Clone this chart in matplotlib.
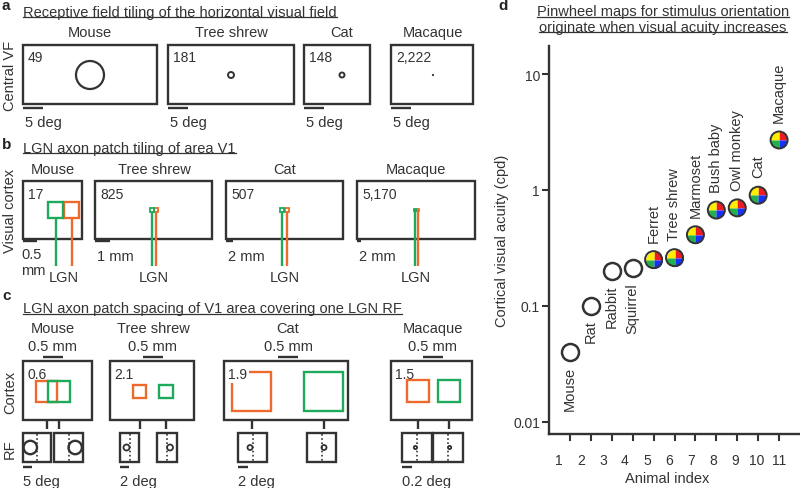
import numpy as np
import matplotlib
matplotlib.use("Agg")
import matplotlib.pyplot as plt
from matplotlib.patches import Rectangle, Circle
from matplotlib.path import Path
from matplotlib.ticker import NullLocator

plt.rcParams["font.family"] = ["Liberation Sans", "DejaVu Sans"]

INK = "#333333"
ORANGE = "#EE6A2C"
GREEN = "#1DAA5A"
FS = 10.5

# ---- data ----
species = ["Mouse", "Tree shrew", "Cat", "Macaque"]
rf_tiling = ["49", "181", "148", "2,222"]
rf_diam_deg = [7.0, 1.5, 1.25, 0.5]
patch_tiling = ["17", "825", "507", "5,170"]
cortex_scale = ["0.5\nmm", "1 mm", "2 mm", "2 mm"]
patch_spacing = ["0.6", "2.1", "1.9", "1.5"]
rf_scale = ["5 deg", "2 deg", "2 deg", "0.2 deg"]

animals = ["Mouse", "Rat", "Rabbit", "Squirrel", "Ferret", "Tree shrew",
           "Marmoset", "Bush baby", "Owl monkey", "Cat", "Macaque"]
animal_index = np.arange(1, 12)
acuity_cpd = [0.04, 0.10, 0.20, 0.21, 0.25, 0.26, 0.41, 0.67, 0.70, 0.90, 2.7]
pinwheels = [False] * 4 + [True] * 7

fig = plt.figure(figsize=(8, 4.89), dpi=100)

# overlay axes in pixel coordinates for the schematic panels
ov = fig.add_axes([0, 0, 1, 1])
ov.set_xlim(0, 800)
ov.set_ylim(489, 0)
ov.axis("off")


def box(x0, y0, x1, y1, color=INK, lw=1.7, z=2):
    ov.add_patch(Rectangle((x0, y0), x1 - x0, y1 - y0, fill=False,
                           ec=color, lw=lw, zorder=z, joinstyle="miter"))


def line(xs, ys, color=INK, lw=1.7, z=2, ls="-"):
    ov.plot(xs, ys, color=color, lw=lw, zorder=z, ls=ls,
            solid_capstyle="butt")


def txt(x, y, s, ha="center", va="center", fs=FS, **kw):
    return ov.text(x, y, s, ha=ha, va=va, fontsize=fs, color=INK, **kw)


# panel letters
for x, y, s in [(2, 6, "a"), (2, 145, "b"), (2, 296, "c"), (498, 6, "d")]:
    ov.text(x, y, s, ha="left", va="center", fontsize=11,
            fontweight="bold", color="#222222")

titles = [
    txt(23, 16.7, "Receptive field tiling of the horizontal visual field", ha="left", va="baseline"),
    txt(23, 152.7, "LGN axon patch tiling of area V1", ha="left", va="baseline"),
    txt(23, 313.3, "LGN axon patch spacing of V1 area covering one LGN RF", ha="left", va="baseline"),
    txt(663, 16.0, "Pinwheel maps for stimulus orientation", va="baseline"),
    txt(663, 31.7, "originate when visual acuity increases", va="baseline"),
]

# row labels
txt(10, 76, "Central VF", rotation=90)
txt(10, 211, "Visual cortex", rotation=90)
txt(10, 392, "Cortex", rotation=90)
txt(10, 449, "RF", rotation=90)

# ---- panel a ----
a_boxes = [(23, 157), (168, 294), (304, 370), (391, 473)]
a_cx = [90, 231, 342, 433]
a_px_per_deg = 4.0
for i, (x0, x1) in enumerate(a_boxes):
    box(x0, 46, x1, 105)
    txt(a_cx[i], 33, species[i])
    txt(x0 + 5, 58, rf_tiling[i], ha="left", fs=10)
    r = rf_diam_deg[i] * a_px_per_deg / 2
    if r > 1.5:
        ov.add_patch(Circle((a_cx[i], 76), r, fill=False, ec=INK,
                            lw=1.6 if r > 5 else 1.4, zorder=3))
    else:
        ov.add_patch(Circle((a_cx[i], 76), 1.1, fc=INK, ec="none", zorder=3))
    line([x0, x0 + 5 * a_px_per_deg], [109, 109])
    txt(x0 + 2, 123, "5 deg", ha="left")

# ---- panel b ----
b_boxes = [(23, 82), (95, 212), (226, 343), (357, 475)]
b_lab_x = [53, 154, 285, 416]
# green centre, orange centre, patch width, patch height, patch top
b_patch = [(55.5, 71.5, 14.5, 16, 203), (151.7, 155.5, 4, 4, 209),
           (282.0, 287.0, 4.5, 4, 209), (414.7, 417.5, 2, 2, 210)]
b_bar = [14, 15, 7, 4]
for i, (x0, x1) in enumerate(b_boxes):
    box(x0, 182, x1, 240)
    txt(b_lab_x[i], 170, species[i])
    txt(x0 + 5, 195, patch_tiling[i], ha="left", fs=10)
    gx, ox, w, h, top = b_patch[i]
    lw = 1.7 if i == 0 else 1.3
    for cx, col in [(ox, ORANGE), (gx, GREEN)]:
        ov.add_patch(Rectangle((cx - w / 2, top), w, h, fill=False, ec=col,
                               lw=lw, zorder=3))
        line([cx, cx], [top + h, 267], color=col, lw=1.7, z=3)
    line([x0, x0 + b_bar[i]], [242, 242])
    txt((gx + ox) / 2, 278, "LGN")
    if i == 0:
        txt(x0 - 2, 263, cortex_scale[i], ha="left", linespacing=1.1)
    else:
        txt(x0 + 2, 257, cortex_scale[i], ha="left")

# ---- panel c ----
c_boxes = [(23, 92), (110, 194), (224, 348), (391, 472)]
c_lab_x = [53, 153, 288, 433]
# orange (x0, x1), green (x0, x1), y0, y1
c_patch = [((36, 57), (48, 70), 382, 403), ((133, 146), (159, 173), 386, 399),
           ((232, 271), (304, 343), 373, 412), ((407, 429), (438, 460), 381, 403)]
c_rf = [((23, 51), (54, 83)), ((120, 139), (157, 177)),
        ((238, 267), (307, 336)), ((402, 432), (433, 463))]
c_rf_r = [6.7, 3.0, 2.5, 1.6]
c_rf_bar = [9, 9, 10, 10]
for i, (x0, x1) in enumerate(c_boxes):
    box(x0, 362, x1, 421)
    txt(c_lab_x[i], 329, species[i])
    txt(c_lab_x[i], 347, "0.5 mm")
    line([c_lab_x[i] - 10, c_lab_x[i] + 10], [357.5, 357.5])
    (oa, ob), (ga, gb), y0, y1 = c_patch[i]
    ov.add_patch(Rectangle((oa, y0), ob - oa, y1 - y0, fill=False, ec=ORANGE,
                           lw=1.7, zorder=3))
    ov.add_patch(Rectangle((ga, y0), gb - ga, y1 - y0, fill=False, ec=GREEN,
                           lw=1.7, zorder=4))
    t = txt(x0 + 4, 375, patch_spacing[i], ha="left", fs=10, zorder=5)
    if i == 2:
        t.set_bbox(dict(fc="white", ec="none", pad=1.5))
    for k, cx in enumerate([(oa + ob) / 2, (ga + gb) / 2]):
        line([cx, cx], [421, 430])
        ra, rb = c_rf[i][k]
        box(ra, 434, rb, 463)
        mid = (ra + rb) / 2
        line([mid, mid], [435, 462], lw=1.2, ls=(0, (1, 1.5)))
        r = c_rf_r[i]
        ccx = mid - r if k == 0 else mid + r
        ov.add_patch(Circle((ccx, 448.5), r, fill=False, ec=INK,
                            lw=1.7 if r > 4 else 1.3, zorder=3))
    ra = c_rf[i][0][0]
    line([ra, ra + c_rf_bar[i]], [468, 468])
    txt(ra, 482, rf_scale[i], ha="left")

# ---- panel d ----
ax = fig.add_axes([549 / 800, (489 - 435) / 489, 251 / 800, 388 / 489])
ax.set_yscale("log")
ax.set_xlim(0, 12)
ax.set_ylim(0.0078, 17.5)
ax.patch.set_alpha(0)
for s in ["top", "right"]:
    ax.spines[s].set_visible(False)
for s in ["left", "bottom"]:
    ax.spines[s].set_linewidth(1.7)
    ax.spines[s].set_color(INK)

ax.yaxis.set_minor_locator(NullLocator())
ax.set_yticks([0.01, 0.1, 1, 10])
ax.set_yticklabels(["0.01", "0.1", "1", "10"])
ax.xaxis.remove_overlapping_locs = False
ax.set_xticks(animal_index)
ax.set_xticklabels([])
# number labels sit on a slightly wider spacing than the ticks
label_pos = 11 - (11 - animal_index) * 1.053
ax.set_xticks(label_pos, minor=True)
ax.set_xticklabels([str(i) for i in animal_index], minor=True)
ax.tick_params(axis="both", which="major", direction="out", length=5,
               width=1.5, color=INK, labelsize=10, labelcolor=INK, pad=1.5)
ax.tick_params(axis="x", which="minor", length=0, pad=14, labelsize=10,
               labelcolor=INK)

ax.set_ylabel("Cortical visual acuity (cpd)", fontsize=FS, color=INK)
ax.yaxis.set_label_coords(-0.158, 0.5)
ax.set_xlabel("Animal index", fontsize=FS, color=INK)
ax.xaxis.set_label_coords(0.47, -0.095)

x = animal_index
y = np.array(acuity_cpd)
pw = np.array(pinwheels)
ms = 150
ax.scatter(x[~pw], y[~pw], s=ms, facecolors="white", edgecolors=INK,
           linewidths=1.8, zorder=3)
quads = [(0, 90, "#ED1C24"), (90, 180, "#FFEE00"), (180, 270, "#22B14C"),
         (270, 360, "#1530FF")]
for t1, t2, col in quads:
    ax.scatter(x[pw], y[pw], s=ms, marker=Path.wedge(t1, t2), c=col,
               linewidths=0, zorder=3)
ax.scatter(x[pw], y[pw], s=ms, facecolors="none", edgecolors=INK,
           linewidths=1.4, zorder=4)

for xi, yi, name, p in zip(x, y, animals, pinwheels):
    if p:
        ax.annotate(name, (xi, yi), xytext=(0, 13), textcoords="offset points",
                    rotation=90, ha="center", va="bottom", fontsize=FS, color=INK)
    else:
        ax.annotate(name, (xi, yi), xytext=(0, -10), textcoords="offset points",
                    rotation=90, ha="center", va="top", fontsize=FS, color=INK)

# underline titles
fig.canvas.draw()
inv = ov.transData.inverted()
for t in titles:
    bb = t.get_window_extent()
    (xa, _), (xb, _) = inv.transform([(bb.x0, 0), (bb.x1, 0)])
    yb = t.get_position()[1] + 1.6
    ov.plot([xa, xb], [yb, yb], color=INK, lw=0.9)

fig.savefig("out.png", dpi=100)
